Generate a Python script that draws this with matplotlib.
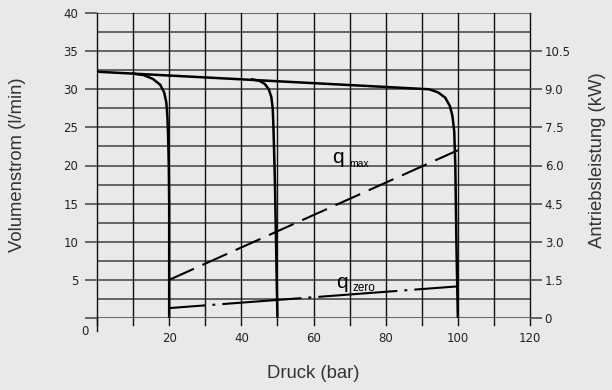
import matplotlib
matplotlib.use("Agg")
import matplotlib.pyplot as plt
import numpy as np

# ---- data ----
x_ticks = [0, 20, 40, 60, 80, 100, 120]
y_ticks = [0, 5, 10, 15, 20, 25, 30, 35, 40]
kw_ticks = [0, 1.5, 3.0, 4.5, 6.0, 7.5, 9.0, 10.5]
kw_labels = ["0", "1.5", "3.0", "4.5", "6.0", "7.5", "9.0", "10.5"]

# main pump curve (relief at 100 bar)
main_p = [0, 92, 94.5, 96.5, 97.8, 98.5, 99.0, 99.3, 99.6, 100]
main_q = [32.3, 30.0, 29.6, 28.9, 27.8, 26.5, 24.5, 20, 10, 0]
# relief at 20 bar
r20_p = [10, 13, 15.5, 17.5, 18.6, 19.2, 19.5, 19.7, 19.9, 20, 20]
r20_q = [32.05, 31.85, 31.35, 30.6, 29.6, 28.3, 26.5, 24, 20, 15, 0]
# relief at 50 bar
r50_p = [43, 45, 46.5, 47.6, 48.3, 48.7, 48.9, 49.3, 50]
r50_q = [31.3, 31.1, 30.7, 30.0, 29.0, 27.5, 25, 18, 0]
# power lines (in l/min-axis units)
qmax_p = [20, 100]
qmax_q = [5.0, 22.0]
qzero_p = [20, 100]
qzero_q = [1.3, 4.15]

BG = "#e8e9eb"
fig = plt.figure(figsize=(6.12, 3.90), dpi=100, facecolor=BG)
ax = fig.add_axes([97/612, 72/390, 433/612, 305/390])
ax.set_facecolor(BG)
ax.set_xlim(0, 120)
ax.set_ylim(0, 40)
for s in ax.spines.values():
    s.set_visible(False)

# grid
hcol = "#4d4d4d"
vcol = "#111111"
for y in np.arange(0, 40.01, 2.5):
    ax.axhline(y, color=hcol, lw=1.2, zorder=1)
for x in range(0, 121, 10):
    ax.plot([x, x], [-0.9, 40], color=vcol, lw=1.0, zorder=1, clip_on=False)
ax.plot([0, 0], [-1.7, 0], color=vcol, lw=1.0, clip_on=False)

ax.set_xticks(x_ticks)
ax.set_xticklabels([""] + [str(v) for v in x_ticks[1:]])
ax.set_yticks(y_ticks)
ax.set_yticklabels([""] + [str(v) for v in y_ticks[1:]])
ax.tick_params(axis="x", length=0, pad=10, labelsize=8.5, labelcolor="#222")
ax.tick_params(axis="y", length=8.6, width=1.2, color=hcol, pad=5, labelsize=8.5, labelcolor="#222")
ax.text(-3.4, -1.8, "0", ha="center", va="center", fontsize=8.5, color="#222")

ax2 = ax.twinx()
for s in ax2.spines.values():
    s.set_visible(False)
ax2.set_ylim(0, 12)
ax2.set_yticks(kw_ticks)
ax2.set_yticklabels(kw_labels)
ax2.tick_params(axis="y", length=8.6, width=1.2, color=hcol, pad=2, labelsize=8.5, labelcolor="#222")

# curves
ax.plot(main_p, main_q, color="black", lw=1.8, zorder=3, solid_capstyle="butt")
ax.plot(r20_p, r20_q, color="black", lw=1.8, zorder=3)
ax.plot(r50_p, r50_q, color="black", lw=1.8, zorder=3)
ax.plot(qmax_p, qmax_q, color="black", lw=1.5, dashes=(13, 4.5), zorder=3)
ax.plot(qzero_p, qzero_q, color="black", lw=1.5, linestyle=(20.6, (38, 3.4, 1.4, 3.4)), zorder=3)

ax.text(65.3, 21.0, "q", fontsize=15, ha="left", va="center", family="Liberation Sans")
ax.text(69.8, 20.2, "max", fontsize=7.5, ha="left", va="center", family="Liberation Sans")
ax.text(66.3, 4.6, "q", fontsize=15, ha="left", va="center", family="Liberation Sans")
ax.text(70.8, 3.9, "zero", fontsize=8.5, ha="left", va="center", family="Liberation Sans")

lab = dict(ha="center", va="center", fontsize=13.3, family="Liberation Sans", color="#333")
fig.text(313/612, 1 - 373/390, "Druck (bar)", **lab)
fig.text(18/612, 1 - 165/390, "Volumenstrom (l/min)", rotation=90, **lab)
fig.text(598/612, 1 - 160/390, "Antriebsleistung (kW)", rotation=90, **lab)

fig.savefig("out.png", dpi=100, facecolor=BG)
